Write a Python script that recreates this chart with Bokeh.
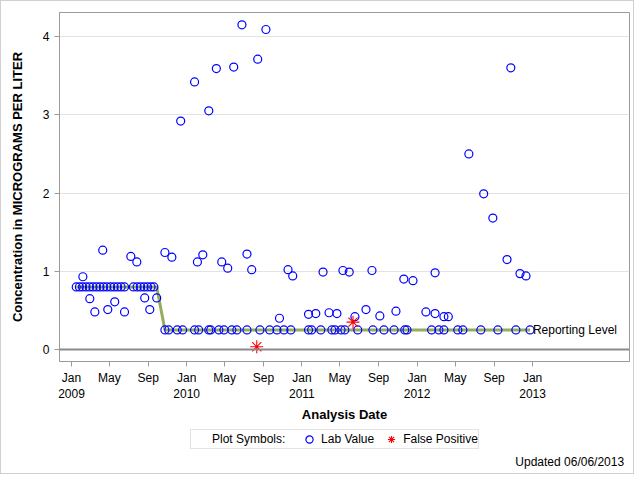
import pandas as pd
from bokeh.plotting import figure
from bokeh.layouts import column
from bokeh.models import (ColumnDataSource, FixedTicker, Legend, LegendItem, Span,
                          Label, Range1d)
from bokeh.embed import file_html
from bokeh.resources import INLINE

# ---------------- data ----------------
lab_dates = [
    "2009-01-16", "2009-01-26", "2009-02-05", "2009-02-06", "2009-02-16", "2009-02-27",
    "2009-02-28", "2009-03-10", "2009-03-16", "2009-03-21", "2009-04-01", "2009-04-10",
    "2009-04-12", "2009-04-23", "2009-04-26", "2009-05-05", "2009-05-16", "2009-05-18",
    "2009-05-27", "2009-06-07", "2009-06-18", "2009-06-18", "2009-07-08", "2009-07-16",
    "2009-07-27", "2009-07-28", "2009-08-08", "2009-08-19", "2009-08-21", "2009-08-30",
    "2009-09-06", "2009-09-10", "2009-09-19", "2009-09-28", "2009-10-24", "2009-10-24",
    "2009-11-05", "2009-11-15", "2009-12-02", "2009-12-13", "2009-12-19",
    "2010-01-26", "2010-01-26", "2010-02-04", "2010-02-08", "2010-02-21", "2010-03-12",
    "2010-03-12", "2010-03-18", "2010-04-05", "2010-04-13", "2010-04-22", "2010-04-29",
    "2010-05-11", "2010-05-24", "2010-05-30", "2010-06-09", "2010-06-25", "2010-07-11",
    "2010-07-11", "2010-07-26", "2010-08-14", "2010-08-21", "2010-09-09", "2010-09-21",
    "2010-10-14", "2010-10-22", "2010-11-05", "2010-11-18", "2010-11-27", "2010-12-03",
    "2011-01-22", "2011-01-22", "2011-02-01", "2011-02-14", "2011-03-02", "2011-03-09",
    "2011-03-28", "2011-04-06", "2011-04-16", "2011-04-22", "2011-05-05", "2011-05-11",
    "2011-05-17", "2011-05-31", "2011-06-18", "2011-06-27", "2011-07-23", "2011-08-11",
    "2011-08-14", "2011-09-05", "2011-09-18", "2011-10-20", "2011-10-26", "2011-11-20",
    "2011-11-23", "2011-11-30", "2011-12-19",
    "2012-01-29", "2012-02-16", "2012-02-27", "2012-02-27", "2012-03-10", "2012-03-26",
    "2012-03-26", "2012-04-09", "2012-05-09", "2012-05-25", "2012-06-13", "2012-07-21",
    "2012-07-30", "2012-08-28", "2012-09-13", "2012-10-12", "2012-10-24", "2012-11-09",
    "2012-11-22", "2012-12-11", "2012-12-24",
]
lab_values = [
    0.80, 0.80, 0.80, 0.93, 0.80, 0.80,
    0.65, 0.80, 0.48, 0.80, 0.80, 1.27,
    0.80, 0.80, 0.51, 0.80, 0.80, 0.61,
    0.80, 0.80, 0.80, 0.48, 1.19, 0.80,
    1.12, 0.80, 0.80, 0.80, 0.66, 0.80,
    0.51, 0.80, 0.80, 0.66, 1.24, 0.25,
    0.25, 1.18, 0.25, 2.92, 0.25,
    3.42, 0.25, 1.12, 0.25, 1.21, 3.05,
    0.25, 0.25, 3.59, 0.25, 1.12, 0.25,
    1.04, 0.25, 3.61, 0.25, 4.15, 1.22,
    0.25, 1.02, 3.71, 0.25, 4.09, 0.25,
    0.25, 0.40, 0.25, 1.02, 0.25, 0.94,
    0.25, 0.45, 0.25, 0.46, 0.25, 0.99,
    0.47, 0.25, 0.25, 0.46, 0.25, 1.01,
    0.25, 0.99, 0.42, 0.25, 0.51, 1.01,
    0.25, 0.43, 0.25, 0.25, 0.49, 0.90,
    0.25, 0.25, 0.88,
    0.48, 0.25, 0.98, 0.46, 0.25, 0.42,
    0.25, 0.42, 0.25, 0.25, 2.50, 0.25,
    1.99, 1.68, 0.25, 1.15, 3.60, 0.25,
    0.97, 0.94, 0.25,
]
fp_dates = ["2010-08-11", "2011-06-12"]
fp_values = [0.035, 0.35]

rl_dates = ["2009-01-16", "2009-09-28", "2009-10-24", "2012-12-24"]
rl_values = [0.80, 0.80, 0.25, 0.25]

tick_dates = ["2009-01-01", "2009-05-01", "2009-09-01", "2010-01-01", "2010-05-01",
              "2010-09-01", "2011-01-01", "2011-05-01", "2011-09-01", "2012-01-01",
              "2012-05-01", "2012-09-01", "2013-01-01"]
tick_labels = ["Jan\n2009", "May", "Sep", "Jan\n2010", "May", "Sep", "Jan\n2011",
               "May", "Sep", "Jan\n2012", "May", "Sep", "Jan\n2013"]
y_ticks = [0, 1, 2, 3, 4]


def ms(s):
    return pd.Timestamp(s).value // 10**6


FONT = "Liberation Sans"
LAB_STYLE = dict(marker="circle", size=8, fill_color=None, line_color="#0000ff",
                 line_width=1.2)
FP_STYLE = dict(marker="asterisk", size=13, line_color="#ff0000", line_width=1.1)

lab_src = ColumnDataSource(dict(x=pd.to_datetime(lab_dates), y=lab_values))
fp_src = ColumnDataSource(dict(x=pd.to_datetime(fp_dates), y=fp_values))
rl_src = ColumnDataSource(dict(x=pd.to_datetime(rl_dates), y=rl_values))

# ---------------- main plot ----------------
p = figure(width=632, height=424, x_axis_type="datetime", output_backend="svg",
           toolbar_location=None,
           x_range=Range1d(ms("2008-11-24"), ms("2013-11-04")),
           y_range=Range1d(-0.153, 4.307),
           min_border_left=58, min_border_right=4, min_border_top=11,
           min_border_bottom=64)

p.outline_line_color = "#9a9a9a"
p.outline_line_width = 1
p.xgrid.visible = False
p.ygrid.ticker = FixedTicker(ticks=y_ticks)
p.ygrid.grid_line_color = "#e3e3e3"

p.add_layout(Span(location=0, dimension="width", line_color="#8a8a8a", line_width=2))

p.line("x", "y", source=rl_src, line_color="#93ae5a", line_width=3)
p.scatter("x", "y", source=lab_src, **LAB_STYLE)
p.scatter("x", "y", source=fp_src, **FP_STYLE)

p.add_layout(Label(x=ms("2013-01-02"), y=0.25, text="Reporting Level",
                   text_baseline="middle", text_align="left",
                   text_font=FONT, text_font_size="12px", text_color="#000000"))

for ax in (p.xaxis[0], p.yaxis[0]):
    ax.axis_line_color = "#9a9a9a"
    ax.major_tick_line_color = "#9a9a9a"
    ax.minor_tick_line_color = None
    ax.major_tick_out = 5
    ax.major_tick_in = 0
    ax.major_label_text_font = FONT
    ax.major_label_text_font_size = "12px"
    ax.major_label_text_color = "#000000"
    ax.axis_label_text_font = FONT
    ax.axis_label_text_font_size = "13px"
    ax.axis_label_text_font_style = "bold"
    ax.axis_label_text_color = "#000000"

p.yaxis.ticker = FixedTicker(ticks=y_ticks)
p.yaxis.axis_label = "Concentration in MICROGRAMS PER LITER"
p.yaxis.major_label_standoff = 5
p.yaxis.axis_label_standoff = 15

tick_ms = [ms(d) for d in tick_dates]
p.xaxis.ticker = FixedTicker(ticks=tick_ms)
p.xaxis.major_label_overrides = {t: l for t, l in zip(tick_ms, tick_labels)}
p.xaxis.axis_label = "Analysis Date"
p.xaxis.major_label_standoff = 4
p.xaxis.axis_label_standoff = 3

# ---------------- legend strip ----------------
# same data sources; their dates lie far outside this strip's range, so only
# the legend swatches of these renderers are visible
q = figure(width=632, height=48, output_backend="svg", toolbar_location=None,
           x_range=Range1d(0, 632), y_range=Range1d(0, 48),
           x_axis_location=None, y_axis_location=None, min_border=0)
q.grid.visible = False
q.outline_line_color = None
q_cap = q.scatter("x", "y", source=rl_src, marker="circle", size=1,
                  fill_alpha=0, line_alpha=0)
q_lab = q.scatter("x", "y", source=lab_src, **LAB_STYLE)
q_fp = q.scatter("x", "y", source=fp_src, **FP_STYLE)

legend = Legend(items=[LegendItem(label="Plot Symbols:  ", renderers=[q_cap]),
                       LegendItem(label="Lab Value", renderers=[q_lab]),
                       LegendItem(label="False Positive", renderers=[q_fp])],
                orientation="horizontal", location=(131, 24),
                label_text_font=FONT, label_text_font_size="12px",
                label_text_color="#000000",
                border_line_color="#c8c8c8", background_fill_color="white",
                glyph_width=18, glyph_height=18, spacing=8, padding=0,
                margin=0, label_standoff=3, label_height=14)
q.add_layout(legend, "center")

q.add_layout(Label(x=626, y=12, text="Updated 06/06/2013",
                   text_align="right", text_baseline="middle",
                   text_font=FONT, text_font_size="12px", text_color="#000000"))

layout = column(p, q, spacing=0)
layout.styles = {"border": "1px solid #d0d0d0"}

with open("out.html", "w") as f:
    f.write(file_html(layout, INLINE))
